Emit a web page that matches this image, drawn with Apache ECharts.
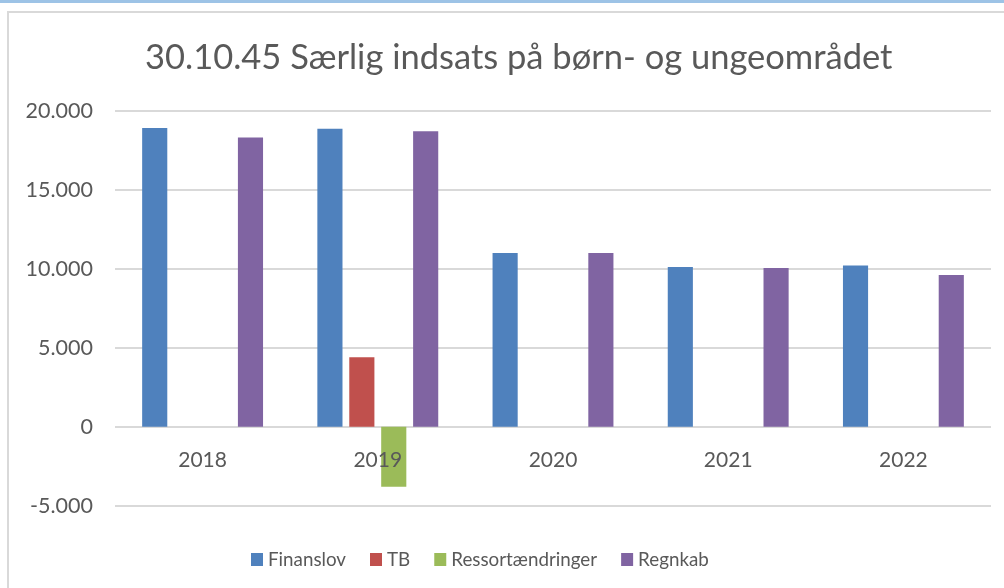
<html lang="da">
	<head>
		<meta charset="UTF-8" />
		<script src="https://cdn.jsdelivr.net/npm/echarts@6/dist/echarts.min.js"></script>
		<title>30.10.45</title>
		<style>
			* {
				padding: 0;
				margin: 0;
			}
		</style>
	</head>

	<body>
		<div id="main" style="width:1004px;height:588px"></div>
		<script>
			// data
			let years = ["2018", "2019", "2020", "2021", "2022"]
			let finanslov = [18900, 18850, 11000, 10100, 10200]
			let tb = [null, 4400, null, null, null]
			let ressort = [null, -3800, null, null, null]
			let regnkab = [18300, 18700, 11000, 10050, 9600]

			let fmt = function(v) {
				let s = Math.abs(v).toString().replace(/\B(?=(\d{3})+(?!\d))/g, ".")
				return (v < 0 ? "-" : "") + s
			}

			let font = "Lato, 'Open Sans', sans-serif"
			let mkBar = function(name, color, data) {
				return {
					name: name,
					type: "bar",
					data: data,
					barGap: "27%",
					barCategoryGap: "31%",
					itemStyle: { color: color }
				}
			}

			var myChart = echarts.init(document.getElementById("main"))
			myChart.setOption({
				backgroundColor: "#fff",
				animation: false,
				graphic: [
					// frame decoration
					{ type: "rect", shape: { x: 0, y: 0, width: 1004, height: 3 }, style: { fill: "#9DC3E6" } },
					{ type: "polyline", shape: { points: [[8, 588], [8, 12], [1004, 12]] }, style: { stroke: "#d9d9d9", lineWidth: 2, fill: null } }
				],
				title: {
					text: "30.10.45 Særlig indsats på børn- og ungeområdet",
					left: 140,
					top: 35,
					textStyle: { fontFamily: font, fontSize: 34.5, fontWeight: "normal", color: "#595959" }
				},
				legend: {
					bottom: 14,
					left: 246,
					itemWidth: 12,
					itemHeight: 13,
					itemGap: 24,
					icon: "rect",
					textStyle: { fontFamily: font, fontSize: 18.8, color: "#595959" }
				},
				grid: { left: 115, right: 13, top: 110.7, bottom: 82.3 },
				xAxis: {
					type: "category",
					data: years,
					z: 5,
					axisLine: { show: false },
					axisTick: { show: false },
					// labels sit under the zero line, not at the bottom of the grid
					axisLabel: { fontFamily: font, fontSize: 21, color: "#595959", margin: -56 }
				},
				yAxis: {
					type: "value",
					min: -5000,
					max: 20000,
					interval: 5000,
					axisLabel: { fontFamily: font, fontSize: 21.5, color: "#595959", margin: 22, formatter: fmt },
					splitLine: { lineStyle: { color: "#d9d9d9", width: 2 } }
				},
				series: [
					mkBar("Finanslov", "#4F81BD", finanslov),
					mkBar("TB", "#C0504D", tb),
					mkBar("Ressortændringer", "#9BBB59", ressort),
					mkBar("Regnkab", "#8064A2", regnkab)
				]
			})
		</script>
	</body>
</html>
